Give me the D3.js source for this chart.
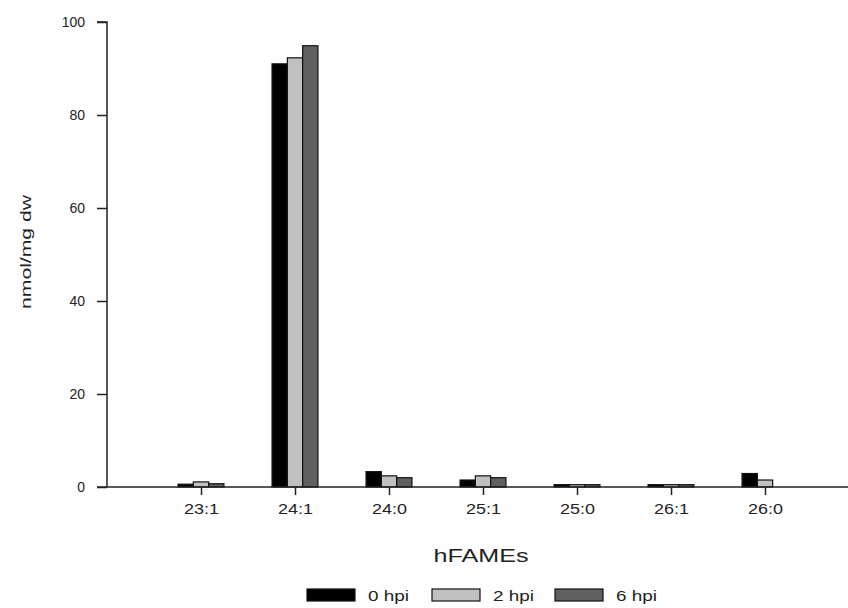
<!DOCTYPE html>
<html><head><meta charset="utf-8">
<script src="https://cdn.jsdelivr.net/npm/d3@7"></script>
<style>body{margin:0;background:#fff}text{font-family:"Liberation Sans",Arial,sans-serif;fill:#222}</style>
</head><body><svg id="c" width="848" height="608"></svg>
<script>
const categories = ["23:1","24:1","24:0","25:1","25:0","26:1","26:0"];
const seriesNames = ["0 hpi","2 hpi","6 hpi"];
const hpi0 = [0.6, 91.0, 3.3, 1.5, 0.5, 0.5, 2.9];
const hpi2 = [1.1, 92.3, 2.4, 2.4, 0.5, 0.5, 1.5];
const hpi6 = [0.7, 94.9, 2.0, 2.0, 0.5, 0.5, 0.0];
const yTicks = [0,20,40,60,80,100];
const colors = ["#000000","#c0c0c0","#606060"];

const svg = d3.select("#c");
const series = [hpi0,hpi2,hpi6];
const x = d3.scaleLinear().domain([0, categories.length+1]).range([107, 859]);
const y = d3.scaleLinear().domain([0,100]).range([487, 22]);
const barW = 15.3;
const inner = d3.scaleBand().domain(d3.range(3)).range([-barW*1.5, barW*1.5]);

series.forEach((vals,s)=>{
  svg.append("g").selectAll("rect").data(vals).join("rect")
    .attr("x",(d,i)=>x(i+1)+inner(s))
    .attr("y",d=>y(d))
    .attr("width",inner.bandwidth())
    .attr("height",d=>y(0)-y(d))
    .attr("fill",colors[s])
    .attr("stroke", d=> d>0 ? "#111" : "none")
    .attr("stroke-width",1.2);
});

const ya = svg.append("g").attr("transform","translate(107,0)")
  .call(d3.axisLeft(y).tickValues(yTicks).tickSize(10).tickPadding(12));
ya.selectAll("text").style("font-size","14px").attr("fill","#222");
ya.selectAll("line,path").attr("stroke","#222").attr("stroke-width",1.5);
ya.select(".domain").attr("d","M0,487V22H-10");
const xa = svg.append("g").attr("transform","translate(0,487)")
  .call(d3.axisBottom(x).tickValues(d3.range(1,categories.length+1)).tickFormat(i=>categories[i-1]).tickSize(8).tickPadding(9).tickSizeOuter(0));
xa.selectAll("text").style("font-size","14px").attr("fill","#222").attr("textLength",35).attr("lengthAdjust","spacingAndGlyphs");
xa.selectAll("line,path").attr("stroke","#222").attr("stroke-width",1.5);
xa.select(".domain").attr("d","M97,0H859");

svg.append("text").attr("x",481).attr("y",562).attr("text-anchor","middle")
  .style("font-size","18px").attr("textLength",95).attr("lengthAdjust","spacingAndGlyphs").text("hFAMEs");
svg.append("text").attr("transform","translate(31,252) rotate(-90)").attr("text-anchor","middle")
  .style("font-size","15px").attr("textLength",114).attr("lengthAdjust","spacingAndGlyphs").text("nmol/mg dw");

const legX = [307,432,555];
seriesNames.forEach((n,i)=>{
  svg.append("rect").attr("x",legX[i]).attr("y",589).attr("width",48).attr("height",12)
    .attr("fill",colors[i]).attr("stroke","#111").attr("stroke-width",1.2);
  svg.append("text").attr("x",legX[i]+61).attr("y",601).style("font-size","14px")
    .attr("textLength",41).attr("lengthAdjust","spacingAndGlyphs").text(n);
});
</script></body></html>
